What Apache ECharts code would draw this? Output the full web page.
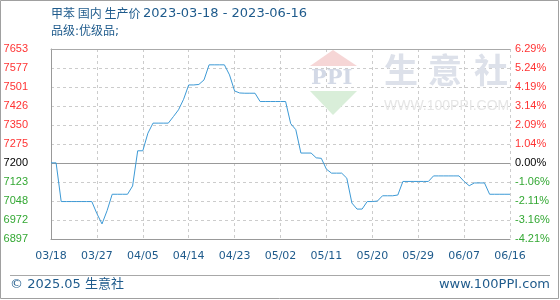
<!DOCTYPE html>
<html><head><meta charset="utf-8">
<script src="https://cdn.jsdelivr.net/npm/echarts@6/dist/echarts.min.js"></script>
<style>html,body{margin:0;padding:0;background:#fff}#c{width:560px;height:300px}</style>
</head><body><div id="c"></div>
<script>
// ---- data ----
const startDate = '2023-03-18';
const dayCount = 91;
const prices = [
  7200, 7200, 7046, 7046, 7046, 7046, 7046, 7046, 7046, 6998,
  6957, 7010, 7075, 7075, 7075, 7075, 7108, 7248, 7248, 7318,
  7358, 7358, 7358, 7358, 7384, 7411, 7453, 7510, 7510, 7512,
  7530, 7590, 7590, 7590, 7590, 7550, 7486, 7478, 7477, 7477,
  7477, 7444, 7444, 7444, 7444, 7444, 7444, 7356, 7332, 7239,
  7239, 7239, 7220, 7218, 7175, 7159, 7159, 7159, 7139, 7040,
  7016, 7016, 7046, 7046, 7048, 7069, 7069, 7069, 7072, 7126,
  7126, 7126, 7126, 7126, 7126, 7148, 7148, 7148, 7148, 7148,
  7148, 7126, 7109, 7120, 7120, 7120, 7075, 7075, 7075, 7075,
  7075
];
const priceTicks = ['6897','6972','7048','7123','7200','7275','7350','7426','7501','7577','7653'];
const pctTicks = ['-4.21%','-3.16%','-2.11%','-1.06%','0.00%','1.04%','2.09%','3.14%','4.19%','5.24%','6.29%'];
const baseValue = 7200;
const yMin = 6897, yMax = 7653;
const titleName = '甲苯 国内 生产价 ';
const titleRange = '2023-03-18 - 2023-06-16';
const subTitle = '品级:优级品;';

// categories (dates)
const dates = [];
(function(){
  const d0 = new Date(startDate + 'T00:00:00Z');
  for (let i = 0; i < dayCount; i++) {
    const d = new Date(d0.getTime() + i * 86400000);
    const mm = String(d.getUTCMonth() + 1).padStart(2, '0');
    const dd = String(d.getUTCDate()).padStart(2, '0');
    dates.push(mm + '/' + dd);
  }
})();

const tickColor = (v, i) => i > 4 ? '#ff3333' : (i === 4 ? '#000000' : '#33a833');
const latin = '"DejaVu Sans", "Noto Sans CJK SC", sans-serif';
const axisFont = '"Liberation Sans", "DejaVu Sans", sans-serif';
const blue = '#1f5b8c';

const chart = echarts.init(document.getElementById('c'), null, {renderer: 'canvas'});
chart.setOption({
  animation: false,
  backgroundColor: '#ffffff',
  grid: {left: 51, right: 50, top: 49, bottom: 61, containLabel: false},
  xAxis: [{
    type: 'category', data: dates, boundaryGap: false,
    axisLine: {show: true, lineStyle: {color: '#999999', width: 1}},
    axisTick: {show: false},
    axisLabel: {interval: 8, color: blue, fontFamily: latin, fontSize: 11, margin: 12},
    splitLine: {show: true, interval: 8, lineStyle: {color: '#cccccc', type: [3, 3], width: 1}}
  }, {
    type: 'category', data: dates, boundaryGap: false, position: 'top',
    axisLine: {show: true, lineStyle: {color: '#aaaaaa', width: 1}},
    axisTick: {show: false}, axisLabel: {show: false}, splitLine: {show: false}
  }],
  yAxis: [{
    type: 'value', min: yMin, max: yMax, show: false, splitLine: {show: false}
  }, {
    type: 'category', data: priceTicks, boundaryGap: false, position: 'left',
    axisLine: {show: true, lineStyle: {color: '#999999', width: 1}},
    axisTick: {show: false},
    axisLabel: {interval: 0, color: tickColor, fontFamily: axisFont, fontSize: 11, margin: 23},
    splitLine: {show: true, interval: 0, lineStyle: {color: '#cccccc', type: [3, 3], width: 1}}
  }, {
    type: 'category', data: pctTicks, boundaryGap: false, position: 'right',
    axisLine: {show: false}, axisTick: {show: false},
    axisLabel: {interval: 0, color: tickColor, fontFamily: axisFont, fontSize: 11, margin: 5},
    splitLine: {show: false}
  }],
  series: [{
    type: 'line', data: prices, xAxisIndex: 0, yAxisIndex: 0,
    symbol: 'none', showSymbol: false,
    lineStyle: {color: '#3d9ad6', width: 1}, itemStyle: {color: '#3d9ad6'},
    z: 5,
    markLine: {
      silent: true, symbol: ['none', 'none'], label: {show: false},
      lineStyle: {color: '#999999', type: 'solid', width: 1},
      data: [{yAxis: baseValue}]
    }
  }],
  graphic: [
    {type: 'rect', shape: {x: 0.5, y: 0.5, width: 558, height: 298}, style: {fill: 'none', stroke: '#a0a0a0', lineWidth: 1}, z: 100},
    {type: 'line', shape: {x1: 10, y1: 275.5, x2: 550, y2: 275.5}, style: {stroke: '#a8a8a8', lineWidth: 1}},
    {type: 'text', left: 51, top: 7, style: {
      text: '{a|' + titleName + '}{b|' + titleRange + '}',
      rich: {a: {fontSize: 12, fontFamily: '"Noto Sans CJK SC", sans-serif', fill: blue},
             b: {fontSize: 13, fontFamily: latin, fill: blue}}}},
    {type: 'text', left: 51, top: 26, style: {text: subTitle, fontSize: 12, fontFamily: latin, fill: blue}},
    {type: 'text', left: 10, top: 278, style: {text: '© 2025.05 生意社', fontSize: 13, fontFamily: latin, fill: blue}},
    {type: 'text', right: 10, top: 278, style: {text: 'www.100PPI.com', fontSize: 13, fontFamily: latin, fill: blue}},
    // watermark
    {type: 'polygon', shape: {points: [[333, 50], [310, 66], [357, 66]]}, style: {fill: '#f6d6d6'}, z: 1},
    {type: 'text', left: 311, top: 68, style: {text: 'PPI', fontSize: 21, fontWeight: 'bold', fontFamily: '"DejaVu Serif", serif', fill: '#d3d9e6'}, z: 1},
    {type: 'polygon', shape: {points: [[310, 91], [357, 91], [333, 115]]}, style: {fill: '#d9eed9'}, z: 1},
    {type: 'text', left: 384, top: 53, style: {text: '生', fontSize: 34, fontWeight: 'bold', fontFamily: '"Noto Sans CJK SC", sans-serif', fill: '#dde1ea'}, z: 1},
    {type: 'text', left: 428, top: 53, style: {text: '意', fontSize: 34, fontWeight: 'bold', fontFamily: '"Noto Sans CJK SC", sans-serif', fill: '#dde1ea'}, z: 1},
    {type: 'text', left: 474, top: 53, style: {text: '社', fontSize: 34, fontWeight: 'bold', fontFamily: '"Noto Sans CJK SC", sans-serif', fill: '#dde1ea'}, z: 1},
    {type: 'text', left: 384, top: 99, style: {text: 'WWW.100PPI.COM', fontSize: 14, fontFamily: '"Liberation Sans", sans-serif', fill: '#e6e6e6'}, z: 1}
  ]
});
</script></body></html>
